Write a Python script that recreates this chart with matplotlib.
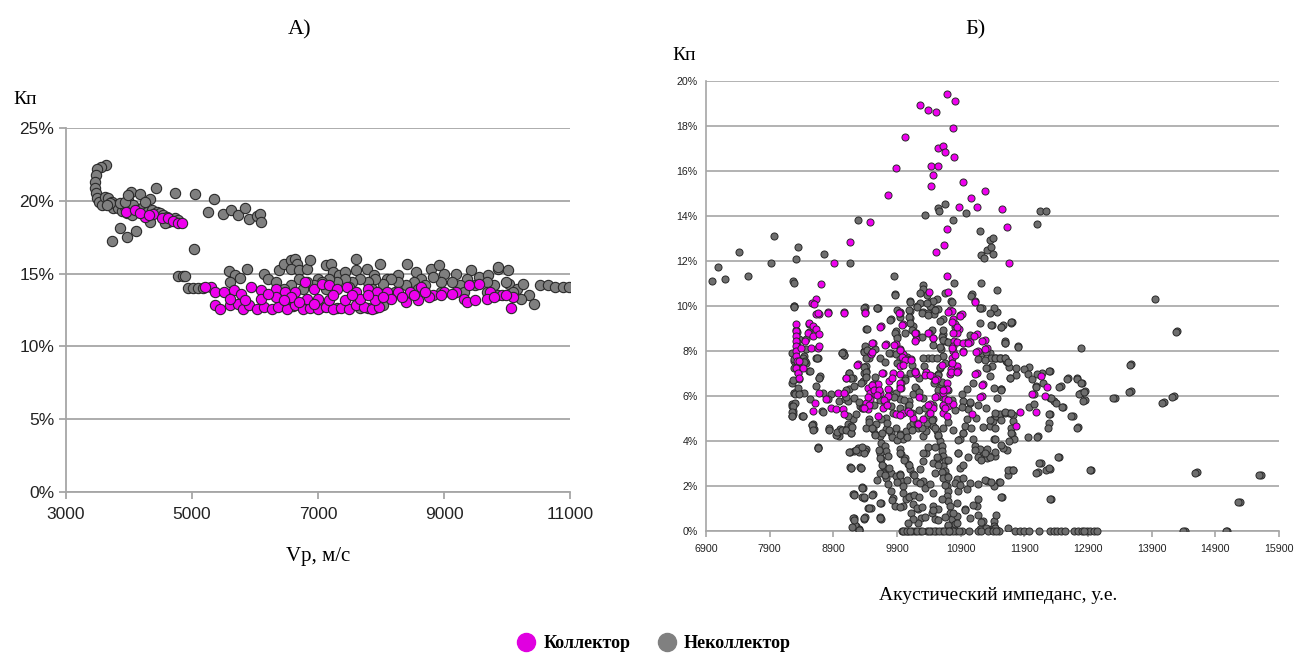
import matplotlib
matplotlib.use("Agg")
import matplotlib.pyplot as plt
from matplotlib.ticker import PercentFormatter, FixedLocator
from matplotlib.lines import Line2D

# ---------------- Panel A: Vp (m/s) vs Kp (%) ----------------
a_non_upper = [
    (3635, 22.46), (3556, 22.35), (3497, 22.16), (3471, 21.77), (3460, 21.32), (3466, 20.86),
    (3476, 20.51), (3497, 20.17), (3529, 19.94), (3566, 19.71), (3619, 20.29), (3672, 20.17),
    (3725, 19.94), (3778, 19.71), (3751, 19.48), (3831, 19.48), (3884, 19.32), (3937, 19.6),
    (3989, 20.06), (4026, 20.63), (4175, 20.45), (4333, 20.1), (4423, 20.86), (4730, 20.56),
    (5047, 20.45), (5349, 20.12), (5248, 19.26), (5486, 19.07), (5624, 19.37), (5725, 19.03),
    (5846, 19.48), (5910, 18.77), (6026, 18.96), (6079, 19.1), (6095, 18.55), (3857, 18.16),
    (4111, 17.95), (3974, 17.54), (3736, 17.26), (5032, 16.67), (4783, 14.86), (4852, 14.86),
    (4889, 14.86), (4069, 19.71), (4122, 19.37), (4228, 19.6), (4280, 19.26), (4360, 19.37),
    (4439, 19.26), (4492, 19.14), (4545, 19.03), (4598, 18.91), (4624, 18.57), (4677, 18.68),
    (4730, 18.8), (4783, 18.68), (3963, 19.14), (4042, 19.03), (3699, 19.83), (3646, 19.71),
    (3857, 19.83), (3937, 19.94), (4254, 19.94), (3989, 20.4), (4571, 18.45), (4333, 18.57),
]
a_non_main = [
    (4942, 13.99), (5021, 13.99), (5100, 13.99), (5180, 13.99),
    (5590, 15.16), (5675, 14.88), (5754, 14.7), (5875, 15.34), (5602, 14.42), (6149, 15.0),
    (6210, 14.65), (6374, 15.23), (6453, 15.69), (6575, 15.92), (6636, 16.03), (6666, 15.69),
    (6575, 15.34), (6697, 15.23), (6818, 15.34), (6879, 15.92), (7000, 14.65), (7122, 15.57),
    (7213, 15.69), (7243, 15.11), (7334, 14.88), (7426, 15.11), (7608, 15.23), (7596, 16.03),
    (7778, 15.34), (7881, 14.88), (7991, 15.69), (8094, 14.65), (8277, 14.88), (8410, 15.69),
    (8550, 15.11), (8641, 14.65), (8793, 15.34), (9006, 15.0), (9188, 15.0), (9431, 15.23),
    (9553, 14.77), (9705, 14.88), (9857, 15.34), (10009, 15.23), (10039, 14.31), (10161, 13.96),
    (10252, 14.31), (10343, 13.5), (10434, 12.93), (10526, 14.19), (10647, 14.19), (10769, 14.08),
    (10891, 14.08), (10982, 14.08), (10222, 13.27), (9979, 14.42), (9796, 14.19), (9675, 14.42),
    (9492, 14.19), (9370, 14.65), (9249, 14.19), (9127, 14.42), (8945, 14.42), (8823, 14.77),
    (8702, 14.19), (8520, 14.42), (8398, 14.19), (8277, 14.42), (8155, 14.65), (8033, 14.31),
    (7912, 14.65), (7790, 14.42), (7669, 14.65), (7547, 14.42), (7426, 14.65), (7304, 14.42),
    (7182, 14.65), (7061, 14.42), (6939, 14.19), (6818, 14.42), (6697, 14.65), (6575, 14.19),
    (6453, 13.96), (6331, 14.42), (6757, 13.96), (7122, 13.96), (7486, 14.08), (7851, 13.96),
    (8216, 13.73), (8581, 13.96), (8945, 13.73), (9310, 13.73), (9675, 13.73), (9857, 13.5),
    (10100, 13.73), (7790, 12.63), (7912, 12.63), (8033, 12.81), (7669, 12.63), (8915, 15.57),
    (9857, 15.46), (6800, 12.7), (7050, 12.7), (7300, 12.65), (6600, 12.75),
]
a_coll_upper = [
    (3947, 19.26), (4095, 19.37), (4254, 18.91), (4386, 19.07), (4519, 18.8), (4624, 18.8),
    (4704, 18.61), (4783, 18.5), (4836, 18.5), (4175, 19.14), (4323, 19.03),
]
a_coll_main = [
    (5298, 14.08), (5207, 14.08), (5359, 13.73), (5510, 13.73), (5663, 13.85), (5784, 13.62),
    (5936, 14.08), (6088, 13.85), (6331, 13.96), (6483, 13.73), (6636, 13.73), (6787, 14.42),
    (6939, 13.96), (7061, 14.31), (7182, 14.19), (7304, 13.96), (7456, 14.08), (7608, 13.73),
    (7790, 13.96), (7942, 13.73), (8094, 13.73), (8277, 13.73), (8459, 13.73), (8641, 14.08),
    (8823, 13.5), (9006, 13.73), (9188, 13.73), (9401, 14.19), (9553, 14.31), (9736, 13.73),
    (9918, 13.5), (10100, 13.39), (10070, 12.63), (9979, 13.5),
    (5359, 12.81), (5450, 12.58), (5602, 12.81), (5724, 12.93), (5815, 12.58), (5906, 12.81),
    (6027, 12.58), (6149, 12.7), (6270, 12.58), (6362, 12.7), (6514, 12.58), (6636, 12.81),
    (6757, 12.58), (6879, 12.63), (7000, 12.58), (7122, 12.7), (7243, 12.58), (7365, 12.63),
    (7486, 12.58), (7608, 12.81), (7729, 12.7), (7851, 12.58), (7973, 12.7),
    (5602, 13.27), (5845, 13.16), (6088, 13.27), (6331, 13.39), (6575, 13.39), (6818, 13.27),
    (7000, 13.27), (7182, 13.16), (7426, 13.16), (7669, 13.27), (7912, 13.16), (8155, 13.27),
    (8398, 13.04), (8581, 13.16), (8763, 13.39), (8945, 13.5), (9127, 13.62), (9310, 13.27),
    (9370, 13.04), (9492, 13.16), (9675, 13.27), (9796, 13.39),
    (6210, 13.62), (6453, 13.16), (6697, 13.04), (6939, 12.93), (7243, 13.5), (7547, 13.5),
    (7790, 13.5), (8033, 13.39), (8337, 13.39), (8520, 13.5), (8702, 13.73),
]

# ---------------- Panel B: acoustic impedance vs Kp (%) ----------------
b_coll_top = [
    (10255, 18.93), (10380, 18.73), (10517, 18.63), (10681, 19.42), (10812, 19.12), (10780, 17.92),
    (10026, 17.51), (9882, 16.13), (10543, 17.02), (10622, 17.13), (10655, 16.83), (10799, 16.62),
    (10432, 16.23), (10543, 16.23), (10465, 15.83), (10439, 15.34), (10937, 15.52), (11284, 15.12),
    (9764, 14.92), (11055, 14.82), (10871, 14.42), (11160, 14.42), (11546, 14.33), (9475, 13.72),
    (10687, 13.42), (11625, 13.52), (9154, 12.84), (10635, 12.70), (10517, 12.40), (8918, 11.93),
    (11657, 11.93), (10687, 11.32), (8708, 11.0), (10700, 10.62), (10399, 10.62), (8623, 10.32),
    (8571, 10.13), (8813, 9.75), (9069, 9.75), (9403, 9.75), (8669, 9.63), (9947, 9.72),
    (10727, 9.83), (10890, 9.62),
]
b_coll_mid = [
    (8310, 9.19), (8310, 8.89), (8310, 8.67), (8310, 8.44), (8310, 8.22), (8310, 8.0),
    (8310, 7.78), (8336, 7.56), (8310, 7.26), (8352, 7.04), (8363, 6.81),
    (8600, 10.07), (8626, 9.63), (8663, 9.7), (8810, 9.7), (9074, 9.7), (9400, 9.7), (9942, 9.7),
    (8521, 9.26), (8574, 9.11), (8626, 8.96), (8495, 8.81), (8574, 8.67), (8458, 8.44),
    (8547, 8.15), (8653, 8.15), (8389, 8.15), (8363, 7.56), (8416, 7.26), (8679, 8.22), (8679, 8.74),
    (9642, 9.11), (9995, 9.19), (10195, 8.52), (10179, 8.81), (10405, 8.81), (10468, 8.59),
    (9521, 8.37), (9732, 8.30), (9889, 8.30), (9942, 8.07), (9995, 7.85), (10047, 7.63),
    (10126, 7.63), (9942, 7.33), (9284, 7.41), (9100, 6.81), (9495, 7.85), (9679, 7.04),
    (9837, 7.04), (9968, 6.59), (10179, 7.11), (10363, 6.96), (10442, 6.89), (10521, 6.74),
    (10653, 6.30), (10679, 6.59),
    (10758, 9.78), (10916, 9.63), (10784, 9.41), (10810, 9.19), (10879, 8.96), (10837, 8.81),
    (10795, 8.44), (10784, 8.22), (10784, 8.0), (10758, 7.70), (10758, 7.48), (10837, 7.33),
    (10742, 7.19), (10853, 7.11), (10731, 6.96), (10942, 8.0), (10995, 8.40), (11047, 8.40),
    (11153, 8.74), (11284, 8.49), (11310, 8.15), (11168, 8.0), (11163, 7.04), (11258, 6.52),
    (11232, 6.0), (11074, 5.19), (11131, 10.22),
]
b_coll_low = [
    (9521, 6.52), (9600, 6.52), (9442, 6.37), (9469, 6.15), (9547, 6.07), (9469, 5.85),
    (9416, 5.70), (9363, 5.48), (9442, 5.41), (9626, 6.15), (9758, 6.30), (9732, 5.85),
    (9705, 5.63), (9758, 6.0), (9600, 5.11), (9679, 5.48),
    (8679, 6.15), (8968, 6.15), (8784, 5.85), (8616, 5.70), (8863, 5.48), (8942, 5.41),
    (9047, 5.41), (9074, 5.19), (8574, 5.33),
    (9889, 5.19), (9995, 5.26), (10074, 5.33), (10153, 5.04), (10232, 4.74), (10311, 4.96),
    (10416, 5.63), (10468, 5.48), (10626, 5.56), (10626, 5.26), (10679, 5.11), (10705, 5.56),
    (10784, 5.63), (10531, 6.0), (10626, 6.15), (10679, 6.30), (10653, 5.88),
    (9968, 6.37), (9942, 6.96), (9768, 6.67), (10205, 6.96),
    (12162, 6.89), (12251, 6.39), (12022, 6.08), (12230, 5.98), (11835, 5.29), (12085, 5.29),
    (11772, 4.68),
]
b_coll_extra = [
    (9926, 9.67), (9630, 9.08), (9978, 9.16), (10176, 8.78), (10176, 8.46), (10384, 8.78),
    (10472, 8.56), (10758, 9.3), (10888, 9.56), (10836, 9.08), (10784, 8.78), (10836, 8.41),
    (10940, 8.37), (11008, 8.37), (10758, 8.12), (10810, 7.82), (10930, 7.97), (11112, 8.68),
    (11138, 7.97), (11236, 8.46), (11278, 8.08), (10706, 9.75), (11122, 10.19), (9510, 8.34),
    (9500, 7.97), (9718, 8.27), (9848, 8.27), (9952, 8.04), (9978, 7.75), (10030, 7.6),
    (10124, 7.6), (9994, 7.38), (9276, 7.38), (9094, 6.79), (9666, 7.01), (9822, 6.79),
    (9952, 6.56), (9952, 6.34), (10186, 7.08), (10352, 7.08), (10342, 6.93), (10420, 6.93),
    (10498, 6.71), (10758, 7.45), (10748, 7.08), (10836, 7.08), (10602, 7.38), (11132, 6.97),
    (11236, 6.49), (11200, 5.97), (9500, 6.49), (9536, 6.27), (9448, 5.97), (9614, 6.27),
    (9588, 6.05), (9692, 5.82), (9744, 5.6), (9458, 5.6), (9068, 6.12), (9380, 5.45),
    (10238, 5.97), (10498, 5.97), (10628, 6.27), (10628, 5.6), (10654, 5.45), (10706, 5.82),
    (10394, 5.6), (10420, 5.23), (9952, 5.16), (10108, 5.23),
]
b_non_sparse = [
    (6992, 11.12), (7090, 11.72), (7201, 11.21), (7424, 12.42), (7555, 11.32), (7922, 11.93),
    (7968, 13.12), (8270, 11.11), (8309, 12.11), (8342, 12.63), (8289, 10.02), (8761, 12.32),
    (9167, 11.93), (9292, 13.82), (9849, 11.32), (10347, 14.03), (10550, 14.34), (10563, 14.22),
    (10655, 14.53), (10780, 13.82), (10983, 14.13), (11199, 13.33), (11225, 12.26), (11264, 12.15),
    (11317, 12.51), (11356, 12.93), (11408, 13.03), (11369, 12.63), (11408, 12.32), (12103, 13.63),
    (12142, 14.22), (12247, 14.22), (11474, 10.72), (11225, 11.02), (11074, 10.53), (11199, 9.93),
    (10301, 10.92), (10314, 10.74), (10373, 10.47), (10412, 10.17), (10530, 10.32), (10799, 11.02),
    (10753, 10.22), (9875, 10.53), (10111, 10.23), (10209, 10.02), (10308, 9.72), (10471, 9.87),
    (10622, 9.43), (9390, 9.95), (9593, 9.93), (9895, 9.84),
    (13958, 10.32), (14305, 8.91), (13578, 7.42), (12791, 8.12), (13578, 6.21), (13322, 5.93),
    (14095, 5.72), (14253, 6.02), (14613, 2.61), (15622, 2.50), (15294, 1.31), (15091, 0.0),
    (14416, 0.0), (12948, 2.71), (12437, 3.31), (12326, 1.41), (12306, 2.75), (12110, 2.61),
    (12156, 3.02), (12110, 4.21), (12745, 4.62), (12666, 5.11), (12588, 6.82), (12732, 6.82),
    (12811, 6.6), (12785, 6.15), (12850, 6.22), (12850, 5.81), (12503, 5.51), (12470, 6.45),
    (12306, 7.12), (12306, 5.93), (12372, 5.78), (12175, 7.04), (11979, 7.27), (12090, 6.45),
    (11979, 5.51), (12044, 5.63), (12293, 4.81), (12306, 5.21), (11769, 6.92), (11802, 8.23),
    (11703, 9.31), (11559, 9.16), (11474, 9.72), (11592, 8.46), (11618, 7.57), (11664, 7.27),
    (11540, 6.33),
]
b_non_zero_ai = [
    9980, 10078, 10177, 10255, 10373, 10439, 10517, 10602, 10734, 10832, 10917, 11028, 11173,
    11212, 11323, 11408, 11500, 11749, 11828, 11900, 11979, 12129, 12306, 12359, 12418, 12483,
    12680, 12745, 12798, 12877, 12929, 12994, 13047, 10030, 10130, 10480, 10560, 10680, 10780,
    11460, 12540, 12840, 10000, 10050, 10110, 10210, 10290, 10400, 10640, 10710, 10870,
]
b_non_dense = [
    (8284, 10.0), (8258, 7.93), (8284, 7.56), (8363, 6.74), (8284, 6.15), (8363, 6.15),
    (8258, 5.63), (8268, 5.33), (8268, 5.19), (8416, 5.11), (8468, 7.48), (8442, 7.78),
    (8653, 7.70), (8679, 6.81), (9058, 7.93), (8653, 3.70), (8574, 4.74), (8600, 4.52),
    (8837, 4.52), (8968, 4.37), (8995, 4.22), (9100, 4.52), (9179, 4.37), (9126, 4.74),
    (9205, 4.96), (9258, 5.19), (9179, 4.67), (8731, 6.15), (8863, 6.07), (8995, 5.78),
    (9153, 6.30), (9153, 7.04), (9205, 6.81), (9363, 6.67), (9416, 7.33), (9416, 7.11),
    (9416, 6.89), (9389, 8.0), (9468, 8.0), (9547, 8.07), (9416, 8.99), (9600, 9.93),
    (9810, 9.41), (9889, 8.89), (9900, 8.67), (9810, 7.93), (9889, 7.85), (9942, 7.63),
    (10100, 9.78), (10100, 9.48), (10153, 9.11), (10205, 8.81), (10258, 10.15), (10389, 9.7),
    (10416, 10.0), (10468, 10.22), (10542, 9.85), (10489, 9.63), (10568, 9.33), (10621, 8.74),
    (10647, 8.44), (10595, 8.07), (10621, 7.78), (10647, 7.48), (10568, 7.26), (10542, 6.96),
    (10489, 6.59), (10595, 6.44), (10384, 7.70), (10331, 7.33), (10253, 6.81), (10200, 6.37),
    (10147, 6.07), (10095, 5.78), (10074, 5.56), (10021, 6.81), (9942, 6.44), (9889, 6.15),
    (9942, 5.85), (9810, 5.56), (9837, 5.26), (9732, 5.04), (9653, 4.96), (9574, 4.74),
    (9521, 4.52), (9468, 4.96), (9416, 4.59), (9547, 4.30), (9626, 4.22), (9653, 3.93),
    (9705, 3.78), (9732, 3.56), (9758, 3.33), (9732, 4.52), (9810, 4.37), (9889, 4.59),
    (9942, 4.30), (9995, 4.07), (10047, 4.44), (10100, 4.67), (10153, 4.81), (10232, 4.59),
    (10311, 4.22), (10363, 4.44), (10416, 4.74), (10468, 4.96), (10468, 4.67), (10521, 4.44),
    (10547, 4.22), (10574, 4.0), (10600, 3.78), (10600, 3.56), (10626, 3.33), (10653, 3.11),
    (10626, 2.89), (10653, 2.67), (10679, 2.44), (10668, 2.22), (10689, 2.0), (10705, 1.78),
    (10679, 1.56), (10705, 1.33), (10731, 1.11), (10731, 0.81), (10758, 0.52), (10705, 0.22),
    (10784, 0.07), (10810, 0.30), (10837, 0.67), (10837, 1.26), (10863, 1.78), (10837, 2.30),
    (10889, 2.81), (10863, 3.48), (10889, 4.07), (10942, 4.37), (10968, 4.67), (10995, 4.96),
    (11021, 5.41), (11047, 5.70), (10942, 5.78), (10916, 6.07), (10995, 6.30), (11100, 6.59),
    (11100, 4.07), (11126, 3.78), (11205, 3.63), (11232, 3.33), (11310, 3.63), (11310, 3.26),
    (11363, 3.33), (11442, 3.33), (11310, 2.22), (11179, 2.07), (11047, 2.15), (10995, 1.85),
    (10942, 2.37), (10968, 0.96), (11153, 1.11), (11179, 1.41), (11047, 0.59), (11258, 0.44),
    (11416, 0.44), (11337, 0.07), (11205, 0.07), (11416, 0.07), (11416, 5.04), (11468, 5.19),
    (11363, 4.67), (11416, 4.07), (11416, 9.93), (11232, 9.93), (11205, 9.26), (11363, 9.70),
    (11232, 7.93), (11179, 7.63), (11389, 7.33), (11416, 7.70), (11495, 7.70), (11310, 7.26),
    (11363, 6.89), (11416, 6.37), (11468, 5.93),
    (9231, 3.56), (9284, 3.70), (9416, 3.63), (9179, 2.81), (9337, 2.81), (9231, 1.63),
    (9363, 1.93), (9389, 1.48), (9521, 1.63), (9495, 1.04), (9653, 1.26), (9653, 0.52),
    (9231, 0.59), (9258, 0.22), (9310, 0.07), (9389, 0.52), (9626, 3.48), (9653, 3.19),
    (9679, 2.89), (9679, 2.59), (9732, 2.37), (9758, 2.07), (9810, 1.78), (9837, 1.48),
    (9810, 2.59), (9889, 2.44), (9942, 2.52), (9968, 2.22), (9995, 2.0), (9995, 1.70),
    (10047, 1.41), (10100, 1.56), (10153, 1.19), (10126, 0.81), (10232, 0.96), (10284, 0.59),
    (10232, 0.37), (10153, 0.52), (10074, 0.37), (9995, 1.11), (9863, 1.11), (9942, 3.63),
    (9968, 3.41), (10021, 3.26), (10074, 2.96), (10100, 2.74), (10153, 2.52), (10205, 2.22),
    (10258, 2.74), (10311, 3.11), (10363, 3.48), (10311, 2.22), (10337, 1.93), (10416, 2.07),
    (10468, 1.70), (10495, 2.59), (10468, 3.04), (10547, 3.26), (10468, 1.11), (10442, 0.81),
    (10495, 0.52), (10547, 0.96), (10600, 1.41),
]
b_non_mid_upper = [
    (9874, 10.49), (10264, 10.56), (10654, 10.56), (11070, 10.44), (10108, 10.19), (10212, 9.97),
    (10368, 10.12), (10498, 9.82), (10758, 10.19), (11200, 9.9), (9380, 9.9), (9588, 9.9),
    (10082, 9.82), (10082, 9.53), (10108, 9.23), (10134, 8.93), (10290, 9.67), (10394, 9.6),
    (9796, 9.38), (9952, 9.53), (9874, 8.78), (9900, 8.56), (10030, 8.78), (10290, 8.64),
    (10446, 8.93), (10472, 8.27), (10576, 8.19), (10602, 8.64), (10628, 8.49), (10706, 8.41),
    (10628, 8.93), (10810, 9.08), (11044, 8.71), (11382, 9.16), (11538, 9.08), (11694, 9.3),
    (11590, 8.34), (11304, 7.97), (11434, 7.67), (11512, 7.67), (11590, 7.67), (11642, 7.53),
    (11304, 7.23), (11278, 7.6), (11668, 6.79), (11538, 6.27), (9068, 7.82), (9042, 7.9),
    (9380, 7.97), (9432, 8.04), (9458, 7.67), (9406, 7.67), (9380, 7.3), (9406, 7.08),
    (9406, 6.86), (9146, 7.01), (9172, 6.79), (9328, 6.56), (9562, 6.86), (9640, 7.67),
    (9718, 7.53), (9770, 7.9), (9900, 7.45), (10056, 7.75), (10134, 7.38), (10108, 7.01),
    (10030, 6.71), (10186, 6.42), (10238, 6.19), (10316, 5.9), (10316, 7.67), (10446, 7.67),
    (10524, 7.67), (10576, 7.3), (10550, 6.93), (10602, 6.64), (10550, 6.27), (10602, 5.97),
    (10706, 6.27), (10758, 5.82), (10810, 5.38), (10914, 5.53), (11044, 5.75), (11174, 5.6),
    (11304, 5.45), (11434, 5.23), (11590, 5.31), (11694, 5.23), (9094, 6.27), (9094, 5.97),
    (9224, 5.9), (9302, 5.75), (9354, 5.45), (9536, 5.6), (9848, 5.97), (10004, 5.82),
    (10082, 5.6), (10134, 5.23), (10238, 5.38), (10342, 5.45), (10394, 5.16), (10472, 5.6),
    (9952, 5.45), (9770, 6.27), (9640, 5.82),
]
b_non_mid_lower = [
    (9094, 4.49), (9172, 4.34), (9198, 4.64), (9458, 4.86), (9510, 4.56), (9562, 4.27),
    (9666, 4.34), (9744, 4.79), (9770, 4.49), (9822, 4.19), (9900, 4.05), (9952, 4.27),
    (10056, 4.19), (10134, 4.49), (10212, 4.79), (10290, 4.56), (10368, 4.79), (10446, 4.93),
    (10498, 4.56), (10550, 4.27), (10628, 4.56), (10706, 4.86), (10784, 4.49), (10862, 4.05),
    (10940, 4.34), (11070, 4.56), (11148, 5.01), (11252, 4.64), (11356, 4.93), (11434, 4.56),
    (11538, 4.93), (11694, 4.34), (9146, 3.53), (9250, 3.6), (9380, 3.45), (9354, 3.75),
    (9614, 3.6), (9640, 3.23), (9666, 2.93), (9640, 2.56), (9588, 2.27), (9718, 2.49),
    (9770, 2.79), (9952, 3.45), (10004, 3.16), (10082, 2.93), (10160, 2.49), (10056, 2.27),
    (9952, 2.49), (9900, 2.19), (10264, 2.12), (10316, 3.45), (10394, 3.75), (10498, 3.75),
    (10524, 3.3), (10550, 2.93), (10602, 2.64), (10628, 2.34), (10654, 2.05), (10706, 2.42),
    (10706, 3.16), (10810, 2.12), (10888, 2.05), (10940, 2.93), (10862, 3.45), (11018, 3.3),
    (11122, 3.6), (11174, 3.3), (11278, 3.45), (11226, 3.16), (11278, 2.27), (11382, 2.19),
    (11512, 2.19), (11642, 2.71), (11720, 2.71), (9172, 2.79), (9328, 2.79), (9224, 1.6),
    (9354, 1.9), (9380, 1.5), (9510, 1.6), (9640, 1.23), (9458, 1.01), (9822, 1.38),
    (9952, 1.08), (10082, 1.53), (10160, 1.6), (10238, 1.53), (10212, 1.01), (10342, 0.64),
    (10290, 1.08), (10472, 0.93), (10550, 0.49), (10654, 0.64), (10706, 0.27), (10784, 0.79),
    (10836, 0.34), (10966, 0.93), (11096, 1.16), (11174, 0.71), (11226, 0.42), (11538, 1.53),
    (9224, 0.49), (9380, 0.56), (9640, 0.56), (9302, 0.05), (9198, 0.19), (11304, 0.12),
    (11434, 0.12), (11642, 0.12),
]
b_non_right = [
    (11392, 9.16), (11538, 9.08), (11684, 9.26), (11590, 8.37), (11798, 8.17), (11356, 7.9),
    (11382, 7.68), (11460, 7.68), (11538, 7.68), (11600, 7.68), (11626, 7.49), (11772, 7.26),
    (11902, 7.19), (11954, 6.98), (12016, 6.77), (12100, 6.98), (12292, 7.09), (12084, 6.39),
    (12058, 6.08), (12188, 6.57), (12318, 5.9), (12396, 5.71), (12484, 5.49), (12448, 6.39),
    (12568, 6.77), (12724, 6.77), (12796, 6.60), (12760, 6.08), (12838, 6.2), (12828, 5.8),
    (13296, 5.89), (13556, 7.38), (13550, 6.2), (14070, 5.68), (14226, 5.97), (14278, 8.86),
    (12640, 5.09), (12724, 4.6), (12282, 5.19), (12266, 4.6), (12100, 4.2), (12422, 3.31),
    (12126, 3.01), (12090, 2.6), (12240, 2.72), (12292, 2.79), (12308, 1.41), (12932, 2.72),
    (14580, 2.6), (15584, 2.5), (15261, 1.31), (14388, 0.0), (15064, 0.0), (11668, 6.79),
    (11528, 6.3), (11408, 4.91), (11460, 5.09), (11512, 5.19), (11590, 5.26), (11652, 5.26),
    (11720, 5.16), (11720, 4.91), (11694, 4.6), (11704, 4.3), (11736, 4.09), (11652, 4.0),
    (11632, 3.61), (11564, 3.71), (11528, 3.81), (11434, 4.11), (11444, 3.52), (11356, 3.31),
    (11668, 2.72), (11720, 2.72), (11642, 2.5), (11496, 2.2), (11424, 2.0), (11548, 1.53),
    (11460, 0.72), (11424, 0.23), (11372, 0.05), (11476, 0.05), (11954, 4.2),
]
b_non_left = [
    (8243, 5.55), (8243, 5.11), (8401, 5.11), (8538, 5.88), (8565, 4.73), (8578, 4.56),
    (8656, 3.74), (8689, 6.87), (8715, 5.33), (8833, 4.59), (8820, 5.88), (8951, 4.29),
    (9004, 4.54), (9076, 5.85), (9128, 5.11), (9049, 7.94), (9167, 6.82), (9220, 6.45),
    (9128, 5.78), (9312, 5.55), (9390, 8.24), (9377, 7.04), (9423, 8.98), (8283, 7.64),
    (8440, 6.15), (8381, 7.49), (8525, 7.12), (8630, 7.71), (8630, 6.45), (9161, 3.50),
    (9305, 3.50), (9390, 3.54), (9161, 2.83), (9325, 2.83), (9358, 1.94), (9207, 1.65),
    (9358, 1.53), (9443, 1.03), (9213, 0.58), (9233, 0.27), (9305, 0.04), (9390, 0.61),
    (9633, 0.61), (8256, 6.6), (8276, 6.15), (8342, 6.37), (8302, 5.7), (8342, 7.04),
    (8427, 7.71), (8453, 7.57), (8473, 8.09), (8525, 8.83), (8512, 9.2), (8342, 8.16),
    (8368, 8.53), (8473, 8.53), (8329, 8.83),
    (8278, 11.04), (8288, 9.97), (8314, 8.94), (8324, 8.42), (8340, 7.6), (8288, 7.23),
    (8262, 6.72), (8392, 7.53), (8444, 7.53), (8532, 7.13), (8636, 7.68), (8678, 6.79),
    (8304, 6.09), (8366, 6.09), (8262, 5.56), (8246, 5.27), (8246, 5.09), (8418, 5.09),
    (8564, 4.72), (8584, 4.49), (8730, 5.31), (8834, 4.49), (8938, 4.27), (8964, 4.42),
    (9042, 4.49), (8657, 3.71), (9068, 7.83), (9042, 7.9),
]

MAGENTA = "#EE00EE"
GRAY_A = "#7F7F7F"
GRAY_B = "#6E6E6E"
EDGE = "#2A2A2A"
GRID = "#A6A6A6"

SERIF = ["Liberation Serif", "DejaVu Serif"]
SANS = ["Liberation Sans", "DejaVu Sans"]


def xy(pts):
    return [p[0] for p in pts], [p[1] for p in pts]


fig = plt.figure(figsize=(12.95, 6.53), dpi=100)

# ---------------- Axes A ----------------
axA = fig.add_axes([66 / 1295, 1 - 492 / 653, (570 - 66) / 1295, (492 - 128) / 653])
for pts in (a_non_upper, a_non_main):
    x, y = xy(pts)
    axA.scatter(x, y, s=55, c=GRAY_A, edgecolors=EDGE, linewidths=0.8, zorder=3)
for pts in (a_coll_upper, a_coll_main):
    x, y = xy(pts)
    axA.scatter(x, y, s=55, c=MAGENTA, edgecolors=EDGE, linewidths=0.8, zorder=4)
axA.set_xlim(3000, 11000)
axA.set_ylim(0, 25)
axA.xaxis.set_major_locator(FixedLocator([3000, 5000, 7000, 9000, 11000]))
axA.yaxis.set_major_locator(FixedLocator([0, 5, 10, 15, 20, 25]))
axA.yaxis.set_major_formatter(PercentFormatter(100, decimals=0))
axA.grid(axis="y", color=GRID, lw=1.3, zorder=0)
for side in ("top", "right"):
    axA.spines[side].set_visible(False)
for side in ("left", "bottom"):
    axA.spines[side].set_color(GRID)
    axA.spines[side].set_linewidth(1.3)
axA.tick_params(axis="both", colors=GRID, length=5, width=1.3, labelcolor="#222222", labelsize=12.5)
axA.tick_params(axis="x", pad=6)
for lab in axA.get_xticklabels() + axA.get_yticklabels():
    lab.set_family(SANS)
axA.text(300 / 1295, 1 - 30 / 653, "А)", transform=fig.transFigure, ha="center", va="center",
         fontsize=16, family=SERIF)
axA.text(25 / 1295, 1 - 100 / 653, "Кп", transform=fig.transFigure, ha="center", va="center",
         fontsize=14, family=SERIF)
axA.text(318 / 1295, 1 - 556 / 653, "Vp, м/с", transform=fig.transFigure, ha="center", va="center",
         fontsize=15, family=SERIF)

# ---------------- Axes B ----------------
axB = fig.add_axes([706 / 1295, 1 - 531 / 653, (1279 - 706) / 1295, (531 - 81) / 653])
for pts in (b_non_sparse, b_non_dense, b_non_right, b_non_left, b_non_mid_upper, b_non_mid_lower):
    x, y = xy(pts)
    axB.scatter(x, y, s=26, c=GRAY_B, edgecolors=EDGE, linewidths=0.7, zorder=3)
axB.scatter(b_non_zero_ai, [0] * len(b_non_zero_ai), s=26, c=GRAY_B, edgecolors=EDGE,
            linewidths=0.7, zorder=3, clip_on=False)
for pts in (b_coll_top, b_coll_mid, b_coll_low, b_coll_extra):
    x, y = xy(pts)
    axB.scatter(x, y, s=26, c=MAGENTA, edgecolors=EDGE, linewidths=0.7, zorder=4)
axB.set_xlim(6900, 15900)
axB.set_ylim(0, 20)
axB.xaxis.set_major_locator(FixedLocator(list(range(6900, 15901, 1000))))
axB.yaxis.set_major_locator(FixedLocator(list(range(0, 21, 2))))
axB.yaxis.set_major_formatter(PercentFormatter(100, decimals=0))
axB.grid(axis="y", color=GRID, lw=1.2, zorder=0)
for side in ("top", "right"):
    axB.spines[side].set_visible(False)
for side in ("left", "bottom"):
    axB.spines[side].set_color(GRID)
    axB.spines[side].set_linewidth(1.2)
axB.tick_params(axis="x", colors=GRID, length=4, width=1.2, labelcolor="#222222", labelsize=7.7, pad=5)
axB.tick_params(axis="y", length=0, labelcolor="#222222", labelsize=7.7, pad=6)
for lab in axB.get_xticklabels() + axB.get_yticklabels():
    lab.set_family(SANS)
axB.text(975 / 1295, 1 - 30 / 653, "Б)", transform=fig.transFigure, ha="center", va="center",
         fontsize=16, family=SERIF)
axB.text(684 / 1295, 1 - 55 / 653, "Кп", transform=fig.transFigure, ha="center", va="center",
         fontsize=14, family=SERIF)
axB.text(998 / 1295, 1 - 595 / 653, "Акустический импеданс, у.е.", transform=fig.transFigure,
         ha="center", va="center", fontsize=14, family=SERIF)

# ---------------- Legend ----------------
handles = [
    Line2D([], [], ls="none", marker="o", ms=13, mfc="#E000E0", mec="#E000E0", label="Коллектор"),
    Line2D([], [], ls="none", marker="o", ms=13, mfc="#808080", mec="#808080", label="Неколлектор"),
]
fig.legend(handles=handles, loc="center", bbox_to_anchor=(0.505, 1 - 644 / 653), ncol=2, frameon=False,
           prop={"family": SERIF, "weight": "bold", "size": 13}, handletextpad=0.45,
           columnspacing=1.5, handlelength=1.0, borderpad=0.1)

fig.savefig("out.png", dpi=100)
